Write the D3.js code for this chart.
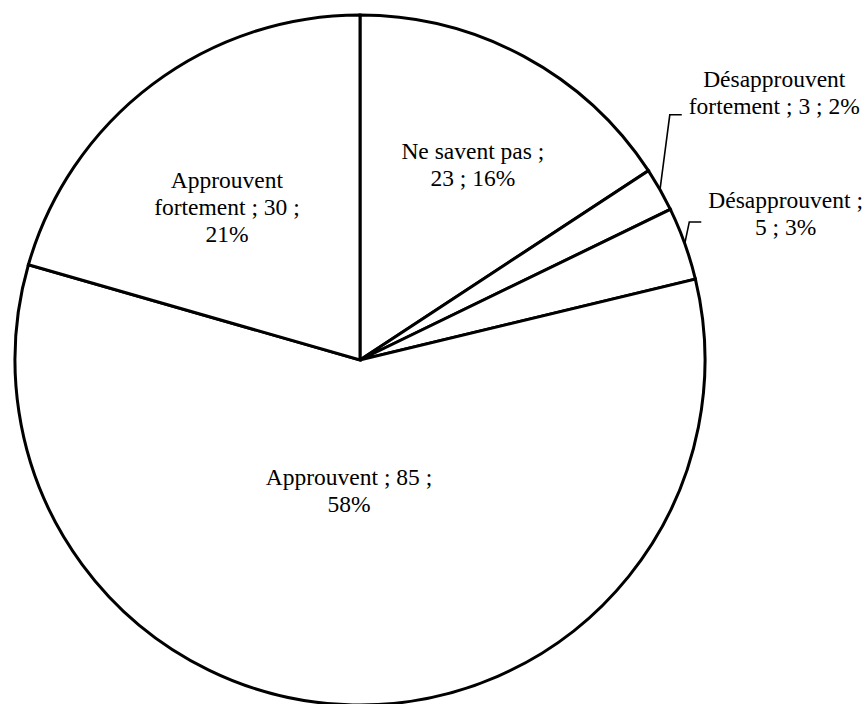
<!DOCTYPE html>
<html>
<head>
<meta charset="utf-8">
<script src="https://cdn.jsdelivr.net/npm/d3@7"></script>
<style>
  html, body { margin: 0; padding: 0; background: #fff; }
  svg { display: block; }
</style>
</head>
<body>
<svg id="chart" width="867" height="704"></svg>
<script>
// Survey answers, clockwise from 12 o'clock
const categories = ["Ne savent pas", "Désapprouvent fortement", "Désapprouvent", "Approuvent", "Approuvent fortement"];
const counts = [23, 3, 5, 85, 30];

// Label layout per slice: angular shift from slice middle (deg), distance as a
// fraction of the radius, wrapping width (px), and whether it sits outside with a leader
const labelAngleShift = [1.6, -3.3, 0.7, 3.6, -4.0];
const labelRadius = [0.655, 1.43, 1.305, 0.378, 0.588];
const wrapWidth = [150, 175, 160, 170, 170];
const labelOutside = [false, true, true, false, false];
const leaderDy = [0, 22.7, 8.7, 0, 0];

const W = 867, H = 704;
const cx = 360, cy = 360, R = 345;
const fontSize = 23.5, lineH = 27;
const fontFamily = '"Liberation Serif", "Times New Roman", Times, serif';

const svg = d3.select("#chart");
const g = svg.append("g").attr("transform", `translate(${cx},${cy})`);

const total = d3.sum(counts);
const data = categories.map((c, i) => ({ name: c, value: counts[i], i }));

const pie = d3.pie().sort(null).value(d => d.value).startAngle(0).endAngle(2 * Math.PI);
const arcs = pie(data);
const arc = d3.arc().innerRadius(0).outerRadius(R);

g.selectAll("path.slice")
  .data(arcs)
  .join("path")
  .attr("class", "slice")
  .attr("d", arc)
  .attr("fill", "#fff")
  .attr("stroke", "#000")
  .attr("stroke-width", 3)
  .attr("stroke-linejoin", "miter");

// text measuring for wrapping
const ctx = document.createElement("canvas").getContext("2d");
ctx.font = `${fontSize}px ${fontFamily}`;
function wrap(text, maxW) {
  const words = text.split(" ");
  const lines = [];
  let cur = "";
  words.forEach(w => {
    const trial = cur ? cur + " " + w : w;
    if (cur && ctx.measureText(trial).width > maxW) {
      lines.push(cur);
      cur = w;
    } else {
      cur = trial;
    }
  });
  if (cur) lines.push(cur);
  return lines;
}

const polar = (a, r) => [r * Math.sin(a), -r * Math.cos(a)];
const deg = Math.PI / 180;

arcs.forEach(a => {
  const i = a.data.i;
  const pct = Math.round(a.data.value / total * 100);
  const text = `${a.data.name} ; ${a.data.value} ; ${pct}%`;
  const lines = wrap(text, wrapWidth[i]);
  const mid = (a.startAngle + a.endAngle) / 2;
  const [lx, ly] = polar(mid + labelAngleShift[i] * deg, labelRadius[i] * R);

  const t = g.append("text")
    .attr("font-family", fontFamily)
    .attr("font-size", fontSize)
    .attr("fill", "#000")
    .attr("text-anchor", "middle");
  const y0 = ly - (lines.length - 1) * lineH / 2 + 0.35 * fontSize;
  lines.forEach((ln, k) => {
    t.append("tspan").attr("x", lx).attr("y", y0 + k * lineH).text(ln);
  });

  if (labelOutside[i]) {
    const maxLineW = d3.max(lines, ln => ctx.measureText(ln).width);
    const left = lx - maxLineW / 2;
    const [px, py] = polar(mid, R);
    const endX = left - 7;
    const elbowX = endX - 12;
    const elbowY = ly + leaderDy[i];
    g.append("path")
      .attr("d", d3.line()([[px, py], [elbowX, elbowY], [endX, elbowY]]))
      .attr("fill", "none")
      .attr("stroke", "#000")
      .attr("stroke-width", 1.6);
  }
});
</script>
</body>
</html>
